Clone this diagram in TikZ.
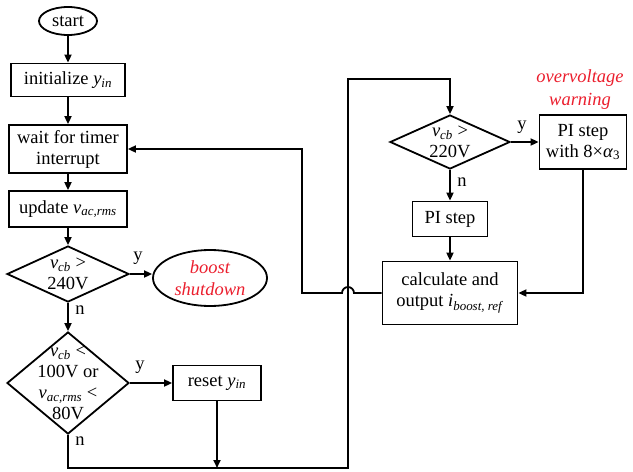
\documentclass[tikz,border=0pt]{standalone}
\usepackage{fontspec}
\setmainfont{Liberation Serif}
\usetikzlibrary{shapes.geometric,arrows.meta}
\definecolor{warnred}{RGB}{235,30,45}
\newcommand{\vsub}[2]{\textit{#1}\textsubscript{\textit{#2}}}

\begin{document}
\begin{tikzpicture}[x=1pt, y=-1pt, line width=1.8pt, font=\fontsize{18.5}{21}\selectfont,
  >={Triangle[length=8pt,width=7pt]}]
\tikzset{
  procbox/.style={draw, rectangle, align=center, inner sep=0pt},
  decision/.style={draw, diamond, inner sep=0pt},
  flowlabel/.style={inner sep=1pt}
}
\useasboundingbox (0,0) rectangle (633,472);
% left column
\node[draw, ellipse, inner sep=0pt, minimum width=58, minimum height=28] (start) at (68,21) {start};
\node[procbox, minimum width=114, minimum height=33] (init) at (68,80) {initialize \vsub{y}{in}};
\node[procbox, minimum width=118, minimum height=48] (wait) at (68,149) {wait for timer\\interrupt};
\node[procbox, minimum width=118, minimum height=36] (update) at (68,209) {update \vsub{v}{ac,rms}};
\node[decision, minimum width=122, minimum height=56,
  label={[align=center]center:\vsub{v}{cb} >\\240V}] (chkhigh) at (68,274) {};
\node[decision, minimum width=122, minimum height=102,
  label={[align=center]center:\vsub{v}{cb} <\\100V or\\\vsub{v}{ac,rms} <\\80V}] (chklow) at (68,383) {};
% shutdown and reset
\node[draw, ellipse, inner sep=0pt, minimum width=114, minimum height=56, text=warnred,
  font=\fontsize{18.5}{22}\selectfont\itshape, align=center] (shutdown) at (210,278) {boost\\shutdown};
\node[procbox, minimum width=88, minimum height=35] (reset) at (217,383) {reset \vsub{y}{in}};
% right column
\node[decision, minimum width=120, minimum height=54,
  label={[align=center]center:\vsub{v}{cb} >\\220V}] (chkwarn) at (450,142) {};
\node[procbox, minimum width=87, minimum height=54] (pifast) at (583,142) {PI step\\with 8×\textit{α}\textsubscript{3}};
\node[text=warnred, font=\fontsize{18.5}{23}\selectfont\itshape, align=center] (warning) at (580,90) {overvoltage\\warning};
\node[procbox, minimum width=75, minimum height=35] (pistep) at (450,219) {PI step};
\node[procbox, minimum width=135, minimum height=63] (calc) at (450,293) {calculate and\\output \vsub{i}{boost, ref}};
% branch labels
\node[flowlabel] (y1) at (138,258) {y};
\node[flowlabel] (n1) at (80,310) {n};
\node[flowlabel] (y2) at (140,367) {y};
\node[flowlabel] (n2) at (80,441) {n};
\node[flowlabel] (y3) at (522,127) {y};
\node[flowlabel] (n3) at (462,182) {n};
% bends of the loop
\coordinate (botL) at (68,468);
\coordinate (botR) at (348,468);
\coordinate (topR) at (450,79);
\coordinate (hopR) at (354,293);
\coordinate (retB) at (302,293);
% connectors
\draw[->] (start) -- (init);
\draw[->] (init) -- (wait);
\draw[->] (wait) -- (update);
\draw[->] (update) -- (chkhigh);
\draw[->] (chkhigh) -- (chklow);
\draw[->] (chkhigh.east) -- (shutdown.west |- chkhigh.east);
\draw[->] (chklow.east) -- (reset.west);
\draw[->] (reset.south) -- (reset.south |- botL);
\draw[->] (chklow.south) -- (botL) -- (botR) |- (topR) -- (chkwarn.north);
\draw[->] (chkwarn.east) -- (pifast.west);
\draw[->] (chkwarn.south) -- (pistep.north);
\draw[->] (pistep.south) -- (calc.north);
\draw[->] (pifast.south) |- (calc.east);
\draw[->] (calc.west) -- (hopR) arc (0:-180:6) -- (retB) |- (wait.east);
\end{tikzpicture}
\end{document}
